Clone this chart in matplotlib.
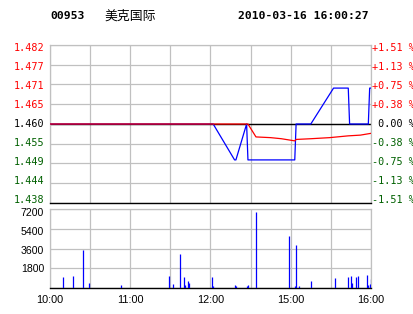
import numpy as np
import matplotlib
matplotlib.use('Agg')
import matplotlib.pyplot as plt

# header
code = '00953'
name = '美克国际'
stamp = '2010-03-16 16:00:27'

prev_close = 1.460

# minutes since 10:00 (10:00-12:30 then 14:30-16:00 = 240 trading minutes)
price_t = [0, 122, 138, 139, 147, 148, 183, 184, 195, 212, 223, 224, 238, 239, 240]
price = [1.460, 1.460, 1.450, 1.450, 1.460, 1.450, 1.450, 1.460, 1.460,
         1.470, 1.470, 1.460, 1.460, 1.470, 1.470]

avg_t = [0, 148, 154, 165, 173, 183, 184, 195, 209, 223, 232, 240]
avg_price = [1.460, 1.460, 1.4564, 1.4562, 1.4559, 1.4553, 1.4557, 1.4559,
             1.4562, 1.4567, 1.4569, 1.4574]

vol_t = [10, 17, 25, 29, 53, 89, 92, 97, 100, 101, 103, 104,
         121, 122, 138, 139, 147, 148, 154, 179, 183, 184, 186, 195,
         213, 223, 225, 226, 229, 230, 237, 238, 239, 240]
vol = [1000, 1100, 3500, 460, 270, 1100, 370, 3100, 1000, 270, 640, 460,
       1000, 180, 270, 180, 180, 270, 6950, 4750, 180, 3900, 180, 640,
       900, 1000, 1100, 460, 1000, 1100, 1200, 270, 370, 820]

price_ticks = [1.438, 1.4435, 1.449, 1.4545, 1.460, 1.4655, 1.471, 1.4765, 1.482]
price_labels = ['1.438', '1.444', '1.449', '1.455', '1.460', '1.465', '1.471', '1.477', '1.482']
pct_labels = ['-1.51 %', '-1.13 %', '-0.75 %', '-0.38 %', ' 0.00 %',
              '+0.38 %', '+0.75 %', '+1.13 %', '+1.51 %']
label_colors = ['#006000'] * 4 + ['black'] + ['red'] * 4

vol_ticks = [1800, 3600, 5400, 7200]
vol_labels = ['1800', '3600', '5400', '7200']

time_ticks = [0, 30, 60, 90, 120, 150, 180, 210, 240]
time_labels = ['10:00', '', '11:00', '', '12:00', '', '15:00', '', '16:00']

W, H = 414, 314
fig = plt.figure(figsize=(W / 100, H / 100), dpi=100)
ax1 = fig.add_axes([50 / W, 1 - 203 / H, 321 / W, 158 / H])
ax2 = fig.add_axes([50 / W, 1 - 288 / H, 321 / W, 79 / H])

grid_c = '#c0c0c0'
mono = 'DejaVu Sans Mono'

for ax in (ax1, ax2):
    ax.set_xlim(0, 240)
    ax.set_xticks(time_ticks)
    ax.grid(True, color=grid_c, lw=0.9)
    ax.set_axisbelow(True)
    for s in ('top', 'left', 'right'):
        ax.spines[s].set_color(grid_c)
        ax.spines[s].set_linewidth(0.9)
    ax.spines['bottom'].set_color('black')
    ax.spines['bottom'].set_linewidth(1.0)
    ax.tick_params(length=0)

# price panel
ax1.set_ylim(1.438, 1.482)
ax1.set_yticks(price_ticks)
ax1.set_yticklabels([])
ax1.set_xticklabels([])

# labels squeezed slightly toward the middle, like the original
for i, (tk, lp, lr, c) in enumerate(zip(price_ticks, price_labels, pct_labels, label_colors)):
    dy = (i - 4) * 0.7 * 0.72
    ax1.annotate(lp, xy=(0, tk), xycoords=('axes fraction', 'data'),
                 xytext=(-4.3, -dy), textcoords='offset points',
                 ha='right', va='center', family=mono, fontsize=7.3, color=c)
    ax1.annotate(lr, xy=(1, tk), xycoords=('axes fraction', 'data'),
                 xytext=(0.8, -dy), textcoords='offset points',
                 ha='left', va='center', family=mono, fontsize=7.3, color=c,
                 annotation_clip=False)

ax1.axhline(prev_close, color='black', lw=1.0, zorder=2)
ax1.plot(price_t, price, color='#0000ff', lw=0.9, zorder=3)
ax1.plot(avg_t, avg_price, color='red', lw=0.9, zorder=4)

# volume panel
ax2.set_ylim(0, 7200)
ax2.set_yticks([0] + vol_ticks)
ax2.set_yticklabels([])
for tk, lv, d in zip(vol_ticks, vol_labels, [0.7, 2.4, 3.0, 4.0]):
    ax2.annotate(lv, xy=(0, tk), xycoords=('axes fraction', 'data'),
                 xytext=(-4.3, -d * 0.72), textcoords='offset points',
                 ha='right', va='center', family='Liberation Sans', fontsize=7.6)
ax2.set_xticklabels(time_labels, family='Liberation Sans', fontsize=7.8)
ax2.tick_params(axis='x', pad=5)
ax2.vlines(vol_t, 0, vol, color='#0000ff', lw=0.9, zorder=3)

# header text
fig.text(50 / W, 1 - 16 / H, code, family=mono, fontweight='bold', fontsize=8.2, va='center')
fig.text(104 / W, 1 - 16 / H, name, family=['Noto Sans CJK SC', 'DejaVu Sans'], fontsize=9.3, va='center')
fig.text(238 / W, 1 - 16 / H, stamp, family=mono, fontweight='bold', fontsize=8.2, va='center')

fig.savefig('out.png', dpi=100, facecolor='white')
